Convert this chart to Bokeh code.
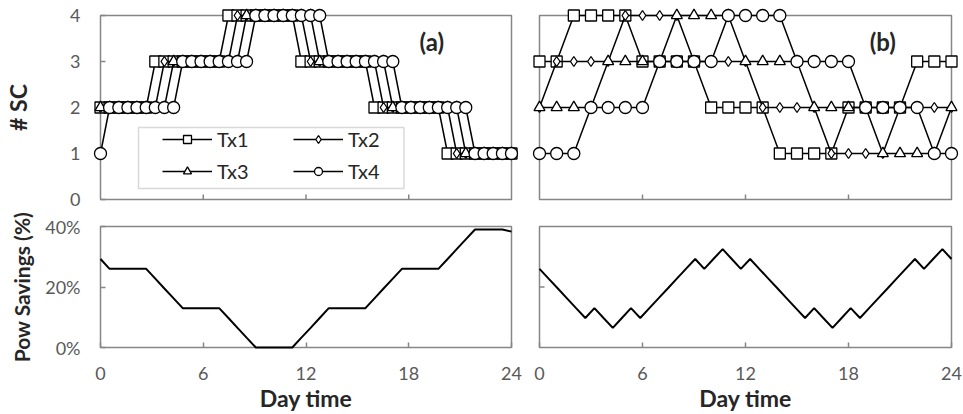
from bokeh.plotting import figure
from bokeh.layouts import column, row
from bokeh.models import (FixedTicker, Legend, LegendItem, Range1d, Label,
                          BoxAnnotation)
from bokeh.embed import file_html
from bokeh.resources import INLINE

# ---------------- data ----------------
SERIES = ["Tx1", "Tx2", "Tx3", "Tx4"]
HOUR_TICKS = [0, 6, 12, 18, 24]
INNER_HOUR_TICKS = [6, 12, 18]
SC_TICKS = [0, 1, 2, 3, 4]
INNER_SC_TICKS = [1, 2, 3]
SAV_TICKS = [0, 20, 40]
INNER_SAV_TICKS = [20]
SAV_TICK_LABELS = {0: "0%", 20: "20%", 40: "40%"}

# panel (a) + both savings curves: 46 samples over the day
TIME_A = [0.00, 0.53, 1.07, 1.60, 2.13, 2.67, 3.20, 3.73, 4.27, 4.80,
          5.33, 5.87, 6.40, 6.93, 7.47, 8.00, 8.53, 9.07, 9.60, 10.13,
          10.67, 11.20, 11.73, 12.27, 12.80, 13.33, 13.87, 14.40, 14.93, 15.47,
          16.00, 16.53, 17.07, 17.60, 18.13, 18.67, 19.20, 19.73, 20.27, 20.80,
          21.33, 21.87, 22.40, 22.93, 23.47, 24.00]

TX1_A = [2, 2, 2, 2, 2, 2, 3, 3, 3, 3, 3, 3, 3, 3, 4, 4, 4, 4, 4, 4, 4, 4, 3,
         3, 3, 3, 3, 3, 3, 3, 2, 2, 2, 2, 2, 2, 2, 2, 1, 1, 1, 1, 1, 1, 1, 1]
TX2_A = [2, 2, 2, 2, 2, 2, 2, 3, 3, 3, 3, 3, 3, 3, 3, 4, 4, 4, 4, 4, 4, 4, 4,
         3, 3, 3, 3, 3, 3, 3, 3, 2, 2, 2, 2, 2, 2, 2, 2, 1, 1, 1, 1, 1, 1, 1]
TX3_A = [2, 2, 2, 2, 2, 2, 2, 2, 3, 3, 3, 3, 3, 3, 3, 3, 4, 4, 4, 4, 4, 4, 4,
         4, 3, 3, 3, 3, 3, 3, 3, 3, 2, 2, 2, 2, 2, 2, 2, 2, 1, 1, 1, 1, 1, 1]
TX4_A = [1, 2, 2, 2, 2, 2, 2, 2, 2, 3, 3, 3, 3, 3, 3, 3, 3, 4, 4, 4, 4, 4, 4,
         4, 4, 3, 3, 3, 3, 3, 3, 3, 3, 2, 2, 2, 2, 2, 2, 2, 2, 1, 1, 1, 1, 1]

SAV_A = [29.25, 26, 26, 26, 26, 26, 22.75, 19.5, 16.25, 13, 13, 13, 13, 13,
         9.75, 6.5, 3.25, 0, 0, 0, 0, 0, 3.25, 6.5, 9.75, 13, 13, 13, 13, 13,
         16.25, 19.5, 22.75, 26, 26, 26, 26, 26, 29.25, 32.5, 35.75, 39, 39,
         39, 39, 38.3]

# panel (b): hourly samples
HOURS_B = [0, 1, 2, 3, 4, 5, 6, 7, 8, 9, 10, 11, 12, 13, 14, 15, 16, 17, 18,
           19, 20, 21, 22, 23, 24]
TX1_B = [3, 3, 4, 4, 4, 4, 3, 3, 3, 3, 2, 2, 2, 2, 1, 1, 1, 1, 2, 2, 2, 2, 3, 3, 3]
TX2_B = [2, 3, 3, 3, 3, 4, 4, 4, 4, 3, 3, 3, 3, 2, 2, 2, 2, 1, 1, 1, 1, 2, 2, 2, 2]
TX3_B = [2, 2, 2, 2, 3, 3, 3, 3, 4, 4, 4, 4, 3, 3, 3, 3, 2, 2, 2, 2, 1, 1, 1, 1, 2]
TX4_B = [1, 1, 1, 2, 2, 2, 2, 3, 3, 3, 3, 4, 4, 4, 4, 3, 3, 3, 3, 2, 2, 2, 2, 1, 1]

SAV_B = [26, 22.75, 19.5, 16.25, 13, 9.75, 13, 9.75, 6.5, 9.75, 13, 9.75, 13,
         16.25, 19.5, 22.75, 26, 29.25, 26, 29.25, 32.5, 29.25, 26, 29.25, 26,
         22.75, 19.5, 16.25, 13, 9.75, 13, 9.75, 6.5, 9.75, 13, 9.75, 13,
         16.25, 19.5, 22.75, 26, 29.25, 26, 29.25, 32.5, 29.25]

# ---------------- style ----------------
FONT = "Lato"
FRAME = "#868686"
TICK_TXT = "#595959"
TITLE_TXT = "#262626"
MARKERS = {"Tx1": ("square", 11), "Tx2": ("diamond", 10),
           "Tx3": ("triangle", 11), "Tx4": ("circle", 12)}
TICK_PX = 5


def make_fig(w, h, left, right, top, bottom, y_end, yticks, inner_yticks,
             show_x, show_y):
    p = figure(width=w, height=h, x_range=Range1d(0, 24),
               y_range=Range1d(0, y_end), output_backend="svg",
               toolbar_location=None, min_border_left=left,
               min_border_right=right, min_border_top=top,
               min_border_bottom=bottom)
    p.background_fill_color = "white"
    p.border_fill_color = "white"
    p.outline_line_color = FRAME
    p.outline_line_width = 1.5
    p.grid.visible = False
    p.xaxis.ticker = FixedTicker(ticks=HOUR_TICKS)
    p.yaxis.ticker = FixedTicker(ticks=yticks)
    for ax in (p.xaxis[0], p.yaxis[0]):
        ax.axis_line_alpha = 0
        ax.major_tick_in = TICK_PX
        ax.major_tick_out = 0
        ax.minor_tick_in = 0
        ax.minor_tick_out = 0
        ax.major_tick_line_color = FRAME
        ax.major_tick_line_width = 1.5
        ax.major_label_text_font = FONT
        ax.major_label_text_font_size = "18px"
        ax.major_label_text_color = TICK_TXT
        ax.axis_label_text_font = FONT
        ax.axis_label_text_font_style = "bold"
        ax.axis_label_text_font_size = "23px"
        ax.axis_label_text_color = TITLE_TXT
    frame_h = h - top - bottom
    frame_w = w - left - right
    if show_x:
        p.xaxis.major_label_standoff = 19
        p.xaxis.axis_label_standoff = 1
    else:
        p.xaxis.visible = False
        ln = TICK_PX * y_end / frame_h
        p.segment(x0=INNER_HOUR_TICKS, y0=0, x1=INNER_HOUR_TICKS, y1=ln,
                  line_color=FRAME, line_width=1.5)
    if show_y:
        p.yaxis.major_label_standoff = 20
    else:
        p.yaxis.visible = False
        ln = TICK_PX * 24 / frame_w
        p.segment(x0=0, y0=inner_yticks, x1=ln, y1=inner_yticks,
                  line_color=FRAME, line_width=1.5)
    return p


def add_series(p, x, ys):
    items = {}
    for name, y in zip(SERIES, ys):
        mk, sz = MARKERS[name]
        ln = p.line(x, y, line_color="black", line_width=1.5, level="overlay")
        sc = p.scatter(x, y, marker=mk, size=sz, fill_color="white",
                       line_color="black", line_width=1.3, level="overlay")
        items[name] = LegendItem(label=name, renderers=[ln, sc])
    return items


def add_tag(p, text, x):
    p.add_layout(Label(x=x, y=3.43, text=text, text_align="center",
                       text_baseline="middle", text_font=FONT,
                       text_font_style="bold", text_font_size="24px",
                       text_color=TITLE_TXT))


TOP_H = 211
BOT_H = 414 - TOP_H

# top-left (a)
p1 = make_fig(525, TOP_H, 100, 14, 15, TOP_H - 15 - 184, 4, SC_TICKS,
              INNER_SC_TICKS, False, True)
p1.yaxis.axis_label = "# SC"
p1.yaxis.axis_label_standoff = 35
items = add_series(p1, TIME_A, [TX1_A, TX2_A, TX3_A, TX4_A])
p1.add_layout(BoxAnnotation(left=2.22, right=17.72, bottom=0.24, top=1.565,
                            fill_color="white", fill_alpha=1,
                            line_color="#808080", line_width=1.5))
# column-major fill: Tx1/Tx3 in first column, Tx2/Tx4 in second
legend = Legend(items=[items["Tx1"], items["Tx3"], items["Tx2"], items["Tx4"]],
                location=(62, 16), ncols=2, glyph_width=50,
                glyph_height=20, label_width=68, label_height=20,
                label_standoff=5, spacing=8, padding=0, margin=0,
                border_line_alpha=0, background_fill_alpha=0,
                label_text_font=FONT, label_text_font_size="20px",
                label_text_color=TITLE_TXT)
p1.add_layout(legend)
add_tag(p1, "(a)", 19.35)

# top-right (b)
p2 = make_fig(438, TOP_H, 14, 12, 15, TOP_H - 15 - 184, 4, SC_TICKS,
              INNER_SC_TICKS, False, False)
add_series(p2, HOURS_B, [TX1_B, TX2_B, TX3_B, TX4_B])
add_tag(p2, "(b)", 20.0)

# bottom-left savings (a)
p3 = make_fig(525, BOT_H, 100, 14, 226 - TOP_H, 67, 40, SAV_TICKS,
              INNER_SAV_TICKS, True, True)
p3.yaxis.major_label_overrides = SAV_TICK_LABELS
p3.yaxis.axis_label = "Pow Savings (%)"
p3.yaxis.axis_label_text_font_size = "21px"
p3.yaxis.axis_label_standoff = 8
p3.xaxis.axis_label = "Day time"
p3.line(TIME_A, SAV_A, line_color="black", line_width=2, level="overlay")

# bottom-right savings (b)
p4 = make_fig(438, BOT_H, 14, 12, 226 - TOP_H, 67, 40, SAV_TICKS,
              INNER_SAV_TICKS, True, False)
p4.xaxis.axis_label = "Day time"
p4.line(TIME_A, SAV_B, line_color="black", line_width=2, level="overlay")

layout = column(row(p1, p2), row(p3, p4))
html = file_html(layout, INLINE)
open("out.html", "w").write(html)
